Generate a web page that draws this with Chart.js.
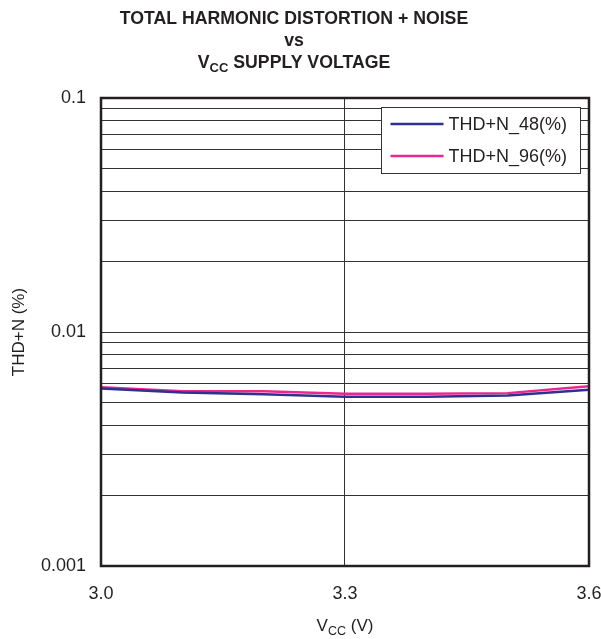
<!DOCTYPE html>
<html>
<head>
<meta charset="utf-8">
<script src="https://cdn.jsdelivr.net/npm/chart.js@4/dist/chart.umd.min.js"></script>
<style>
  html, body { margin: 0; padding: 0; background: #fff; }
  #wrap { width: 601px; height: 639px; position: relative; }
</style>
</head>
<body>
<div id="wrap"><canvas id="c" width="601" height="639"></canvas></div>
<script>
// ---- data ----
const vccVolts = [3.0, 3.1, 3.2, 3.3, 3.4, 3.5, 3.6];
const thdn48 = [0.00574, 0.00551, 0.00542, 0.00529, 0.00529, 0.00535, 0.00566];
const thdn96 = [0.00580, 0.00558, 0.00558, 0.00544, 0.00544, 0.00548, 0.00586];
const seriesLabels = ['THD+N_48(%)', 'THD+N_96(%)'];
const xTickValues = [3.0, 3.3, 3.6];
const yMajorTicks = [0.001, 0.01, 0.1];
const yTickLabels = ['0.001', '0.01', '0.1'];
const titleLines = ['TOTAL HARMONIC DISTORTION + NOISE', 'vs'];
const yAxisTitle = 'THD+N (%)';

const FONT = '"Liberation Sans", Arial, Helvetica, sans-serif';
const TXT = '#231f20';

// minor grid values for log axis (1..9 per decade)
const yGridValues = [];
for (let d = 0; d < yMajorTicks.length - 1; d++) {
  for (let m = 1; m < 10; m++) yGridValues.push(+(yMajorTicks[d] * m).toPrecision(3));
}
yGridValues.push(yMajorTicks[yMajorTicks.length - 1]);

function drawSub(ctx, parts, x, y, align) {
  let total = 0;
  const widths = parts.map(p => {
    ctx.font = p.font;
    const w = ctx.measureText(p.t).width;
    total += w;
    return w;
  });
  let cx = align === 'center' ? x - total / 2 : x;
  parts.forEach((p, i) => {
    ctx.font = p.font;
    ctx.textAlign = 'left';
    ctx.textBaseline = 'alphabetic';
    ctx.fillText(p.t, cx, y + (p.dy || 0));
    cx += widths[i];
  });
}

const decor = {
  id: 'decor',
  afterDraw(chart) {
    const ctx = chart.ctx;
    const a = chart.chartArea;
    ctx.save();
    ctx.fillStyle = TXT;
    // Title
    ctx.font = 'bold 17.7px ' + FONT;
    ctx.textAlign = 'center';
    ctx.textBaseline = 'alphabetic';
    ctx.fillText(titleLines[0], 294, 24);
    ctx.fillText(titleLines[1], 294, 46);
    drawSub(ctx, [
      {t: 'V', font: 'bold 17.7px ' + FONT},
      {t: 'CC', font: 'bold 13px ' + FONT, dy: 4},
      {t: ' SUPPLY VOLTAGE', font: 'bold 17.7px ' + FONT}
    ], 294, 68, 'center');

    // X axis title
    const xc = (a.left + a.right) / 2;
    drawSub(ctx, [
      {t: 'V', font: '17px ' + FONT},
      {t: 'CC', font: '12.5px ' + FONT, dy: 4},
      {t: ' (V)', font: '17px ' + FONT}
    ], xc, 631, 'center');

    // Y axis title
    ctx.save();
    ctx.translate(19, (a.top + a.bottom) / 2);
    ctx.rotate(-Math.PI / 2);
    ctx.font = '17px ' + FONT;
    ctx.textAlign = 'center';
    ctx.textBaseline = 'middle';
    ctx.fillText(yAxisTitle, 0, 0);
    ctx.restore();

    // Plot border
    ctx.strokeStyle = '#231f20';
    ctx.lineWidth = 2.5;
    ctx.strokeRect(a.left, a.top, a.right - a.left, a.bottom - a.top);

    // Legend
    const lw = 199, lh = 66;
    const lx = Math.round(a.right - 9 - lw) + 0.5;
    const ly = Math.round(a.top + 9) + 0.5;
    ctx.fillStyle = '#fff';
    ctx.fillRect(lx, ly, lw, lh);
    ctx.strokeStyle = '#333';
    ctx.lineWidth = 1;
    ctx.strokeRect(lx, ly, lw, lh);
    chart.data.datasets.forEach((ds, i) => {
      const ry = ly + 16.5 + i * 32;
      ctx.strokeStyle = ds.borderColor;
      ctx.lineWidth = 2.5;
      ctx.beginPath();
      ctx.moveTo(lx + 9, ry);
      ctx.lineTo(lx + 62, ry);
      ctx.stroke();
      ctx.fillStyle = TXT;
      ctx.font = '18px ' + FONT;
      ctx.textAlign = 'left';
      ctx.textBaseline = 'middle';
      ctx.fillText(ds.label, lx + 67, ry + 1);
    });
    ctx.restore();
  }
};

new Chart(document.getElementById('c'), {
  type: 'line',
  data: {
    datasets: [
      {
        label: seriesLabels[0],
        data: vccVolts.map((v, i) => ({x: v, y: thdn48[i]})),
        borderColor: '#2e3192',
        borderWidth: 2.5,
        pointRadius: 0,
        tension: 0,
        fill: false
      },
      {
        label: seriesLabels[1],
        data: vccVolts.map((v, i) => ({x: v, y: thdn96[i]})),
        borderColor: '#ec268f',
        borderWidth: 2.5,
        pointRadius: 0,
        tension: 0,
        fill: false
      }
    ]
  },
  options: {
    responsive: false,
    animation: false,
    devicePixelRatio: 1,
    layout: { padding: { top: 98, left: 0, right: 12, bottom: 0 } },
    plugins: {
      legend: { display: false },
      title: { display: false },
      tooltip: { enabled: false }
    },
    scales: {
      x: {
        type: 'linear',
        min: 3.0,
        max: 3.6,
        afterBuildTicks: s => { s.ticks = xTickValues.map(v => ({value: v})); },
        afterFit: s => { s.height = 73; s.paddingLeft = 0; s.paddingRight = 0; },
        ticks: {
          callback: v => v.toFixed(1),
          font: { family: FONT, size: 18 },
          color: TXT,
          padding: 17,
          maxRotation: 0,
          autoSkip: false
        },
        grid: {
          drawTicks: false,
          color: '#333',
          lineWidth: 1
        },
        border: { display: false }
      },
      y: {
        type: 'logarithmic',
        min: 0.001,
        max: 0.1,
        afterBuildTicks: s => { s.ticks = yGridValues.map(v => ({value: v})); },
        afterFit: s => { s.width = 101; s.paddingTop = 0; s.paddingBottom = 0; },
        ticks: {
          callback: function(v) {
            const idx = yMajorTicks.findIndex(m => Math.abs(m - v) / m < 1e-6);
            return idx >= 0 ? yTickLabels[idx] : '';
          },
          font: { family: FONT, size: 18 },
          color: TXT,
          padding: 15,
          autoSkip: false
        },
        grid: {
          drawTicks: false,
          color: '#333',
          lineWidth: 1
        },
        border: { display: false }
      }
    }
  },
  plugins: [decor]
});
</script>
</body>
</html>
